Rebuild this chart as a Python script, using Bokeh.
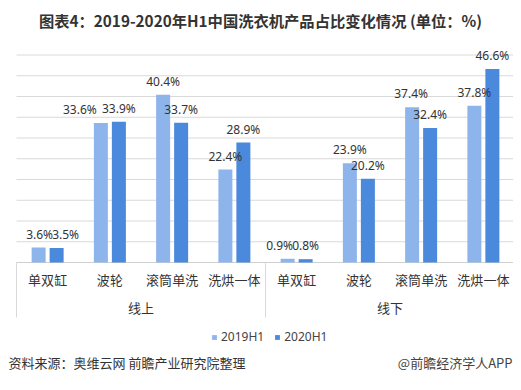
from bokeh.plotting import figure
from bokeh.models import Range1d, ColumnDataSource, Legend, LegendItem
from bokeh.core.properties import value
from bokeh.embed import file_html
from bokeh.resources import INLINE

# ---------------- data ----------------
title_text = "图表4：2019-2020年H1中国洗衣机产品占比变化情况 (单位：%)"
groups = ["线上", "线下"]
categories = ["单双缸", "波轮", "滚筒单洗", "洗烘一体"]
series_names = ["2019H1", "2020H1"]
values_2019 = [3.6, 33.6, 40.4, 22.4, 0.9, 23.9, 37.4, 37.8]
values_2020 = [3.5, 33.9, 33.7, 28.9, 0.8, 20.2, 32.4, 46.6]
grid_values = [5, 10, 15, 20, 25, 30, 35, 40, 45, 50]
source_text = "资料来源：奥维云网 前瞻产业研究院整理"
brand_text = "@前瞻经济学人APP"

# ---------------- layout ----------------
W, H = 513, 382
LEFT = 16.0         # px from figure left to first category edge
PX_X = 62.25        # px per category
BASE = 262.0        # px from figure top to the 0 line
PX_Y = 4.15         # px per percent

def X(px):
    return (px - LEFT) / PX_X

def Y(px):
    return (BASE - px) / PX_Y

CJK = "Noto Sans CJK SC"
LAT = "Noto Sans"
C19 = "#8EB4EC"
C20 = "#4A89DC"
GRID = "#D9D9D9"

p = figure(width=W, height=H, output_backend="svg", toolbar_location=None,
           x_range=Range1d(X(0), X(W)), y_range=Range1d(Y(H), Y(0)),
           x_axis_location=None, y_axis_location=None, min_border=0,
           outline_line_color=None, background_fill_color="white",
           border_fill_color="white")
p.xgrid.visible = False
p.ygrid.visible = False

factors = [(g, c) for g in groups for c in categories]
n = len(factors)
centers = [i + 0.5 for i in range(n)]
dodge = 9 / PX_X
bar_w = 14 / PX_X

# gridlines
p.segment(x0=[0] * len(grid_values), x1=[n] * len(grid_values),
          y0=grid_values, y1=grid_values, line_color=GRID, line_width=1)
# axis line
p.segment(x0=[0], x1=[n], y0=[0], y1=[0], line_color="#D0D0D0", line_width=1)
# group separators
seps = [0, n // 2, n]
p.segment(x0=seps, x1=seps, y0=[0] * 3, y1=[Y(BASE + 55)] * 3,
          line_color=GRID, line_width=1)

src19 = ColumnDataSource(dict(x=[c - dodge for c in centers], top=values_2019,
                              lab=[f"{v:.1f}%" for v in values_2019],
                              dx=[1, -21, 0, 0, -8, 0, -1, 0]))
src20 = ColumnDataSource(dict(x=[c + dodge for c in centers], top=values_2020,
                              lab=[f"{v:.1f}%" for v in values_2020],
                              dx=[9, 0, 0, 0, 0, 0, 0, 0]))

r19 = p.vbar(x="x", top="top", bottom=0, width=bar_w, source=src19,
             fill_color=C19, line_color=None)
r20 = p.vbar(x="x", top="top", bottom=0, width=bar_w, source=src20,
             fill_color=C20, line_color=None)

for s in (src19, src20):
    p.text(x="x", y="top", text="lab", source=s, x_offset="dx", y_offset=-13.5,
           text_align="center", text_baseline="middle",
           text_font=value(LAT), text_font_size="12px", text_color="#333333")

# category labels
p.text(x=centers, y=[0] * n, text=[c for _, c in factors], y_offset=17,
       text_align="center", text_baseline="middle",
       text_font=value(CJK), text_font_size="13px", text_color="#333333")
# group labels
p.text(x=[n / 4, 3 * n / 4], y=[0, 0], text=groups, y_offset=45,
       text_align="center", text_baseline="middle",
       text_font=value(CJK), text_font_size="13px", text_color="#333333")

# title
p.text(x=[X(260)], y=[Y(19.5)], text=[title_text],
       text_align="center", text_baseline="middle",
       text_font=value(CJK), text_font_size="15.3px", text_font_style="bold",
       text_color="#333333")
# footer
p.text(x=[X(8)], y=[Y(361.7)], text=[source_text],
       text_align="left", text_baseline="middle",
       text_font=value(CJK), text_font_size="13px", text_color="#333333")
p.text(x=[X(W - 1)], y=[Y(361.7)], text=[brand_text],
       text_align="right", text_baseline="middle",
       text_font=value(CJK), text_font_size="13px", text_color="#444444")

legend = Legend(items=[LegendItem(label=series_names[0], renderers=[r19]),
                       LegendItem(label=series_names[1], renderers=[r20])],
                orientation="horizontal", location=(211, 37),
                glyph_width=6, glyph_height=6, label_height=14, label_width=10,
                label_standoff=4, spacing=10, padding=0, margin=0,
                border_line_color=None, background_fill_alpha=0,
                label_text_font=LAT, label_text_font_size="12px",
                label_text_color="#444444")
p.add_layout(legend)

open("out.html", "w").write(file_html(p, INLINE))
